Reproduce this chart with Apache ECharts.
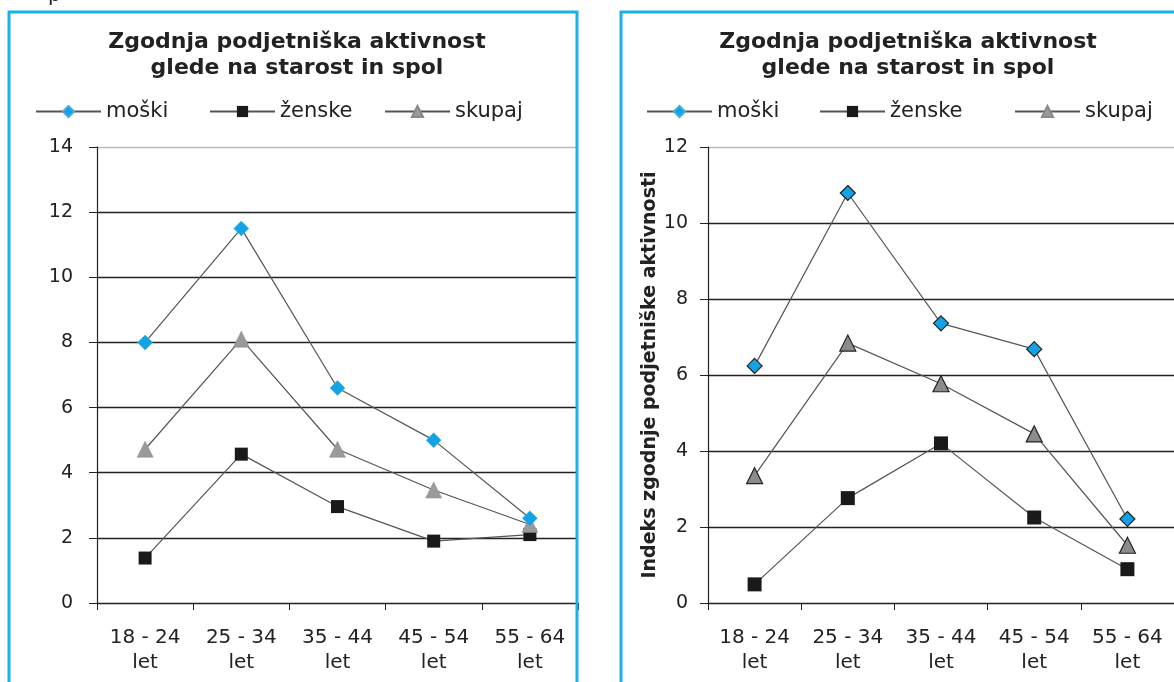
<!DOCTYPE html>
<html>
<head>
<meta charset="utf-8">
<script src="https://cdn.jsdelivr.net/npm/echarts@6/dist/echarts.min.js"></script>
<style>
  html, body { margin: 0; padding: 0; background: #fff; }
  #chart { width: 1174px; height: 682px; }
</style>
</head>
<body>
<div id="chart"></div>
<script>
// data
var categories = ['18 - 24\nlet', '25 - 34\nlet', '35 - 44\nlet', '45 - 54\nlet', '55 - 64\nlet'];
var seriesNames = ['moški', 'ženske', 'skupaj'];

// left chart
var leftMoski = [8.0, 11.5, 6.6, 5.0, 2.6];
var leftZenske = [1.38, 4.57, 2.96, 1.9, 2.1];
var leftSkupaj = [4.72, 8.1, 4.72, 3.47, 2.41];

// right chart
var rightMoski = [6.24, 10.79, 7.36, 6.68, 2.21];
var rightZenske = [0.49, 2.76, 4.2, 2.25, 0.89];
var rightSkupaj = [3.35, 6.84, 5.77, 4.45, 1.52];

var titleText = 'Zgodnja podjetniška aktivnost\nglede na starost in spol';
var rightAxisName = 'Indeks zgodnje podjetniške aktivnosti';

var FONT = '"DejaVu Sans", sans-serif';
var BLUE = '#1ab0ec';
var LINE = '#555';

var chart = echarts.init(document.getElementById('chart'));

function mkSeries(name, data, gridIdx, sym) {
  return {
    name: name,
    type: 'line',
    xAxisIndex: gridIdx,
    yAxisIndex: gridIdx,
    data: data,
    symbol: sym.symbol,
    symbolSize: sym.size,
    showAllSymbol: true,
    lineStyle: { color: LINE, width: 1.2 },
    itemStyle: { color: sym.color, borderColor: sym.border, borderWidth: sym.bw },
    emphasis: { disabled: true },
    z: sym.z || 2
  };
}

function mkLegend(name, left) {
  return {
    data: [name],
    left: left,
    top: 96,
    itemWidth: 65,
    itemHeight: 14,
    itemGap: 8,
    textStyle: { fontFamily: FONT, fontSize: 21, color: '#222' },
    selectedMode: false
  };
}

function mkX(gridIdx) {
  return {
    type: 'category',
    gridIndex: gridIdx,
    data: categories,
    boundaryGap: true,
    axisLine: { lineStyle: { color: '#222', width: 1.2 } },
    axisTick: { show: true, length: 7, lineStyle: { color: '#222' } },
    axisLabel: {
      interval: 0, margin: 22, fontFamily: FONT, fontSize: 20,
      lineHeight: 25, color: '#222'
    }
  };
}

var gridColorsLeft = ['#222', '#222', '#222', '#222', '#222', '#222', '#222', '#bbb'];
var gridColorsRight = ['#222', '#222', '#222', '#222', '#222', '#222', '#bbb'];

var titleStyle = { fontFamily: FONT, fontSize: 22, fontWeight: 'bold', lineHeight: 26, color: '#222' };

var option = {
  animation: false,
  backgroundColor: '#fff',
  title: [
    { text: titleText, left: 292, top: 24, textAlign: 'center', textStyle: titleStyle },
    { text: titleText, left: 903, top: 24, textAlign: 'center', textStyle: titleStyle }
  ],
  legend: [
    mkLegend('moški', 30), mkLegend('ženske', 204), mkLegend('skupaj', 379),
    mkLegend('moški', 641), mkLegend('ženske', 814), mkLegend('skupaj', 1009)
  ],
  grid: [
    { left: 97, top: 147, width: 481, height: 456 },
    { left: 708, top: 147, width: 480, height: 456 }
  ],
  xAxis: [mkX(0), mkX(1)],
  yAxis: [
    {
      type: 'value', gridIndex: 0, min: 0, max: 14, interval: 2,
      axisLine: { show: true, lineStyle: { color: '#222', width: 1.2 } },
      axisTick: { show: true, length: 8, lineStyle: { color: '#222' } },
      axisLabel: { margin: 24, fontFamily: FONT, fontSize: 19, color: '#222' },
      splitLine: { lineStyle: { color: gridColorsLeft, width: 1.3 } }
    },
    {
      type: 'value', gridIndex: 1, min: 0, max: 12, interval: 2,
      name: rightAxisName, nameLocation: 'middle', nameGap: 48, nameRotate: 90,
      nameTextStyle: { fontFamily: FONT, fontSize: 19, fontWeight: 'bold', color: '#222' },
      axisLine: { show: true, lineStyle: { color: '#222', width: 1.2 } },
      axisTick: { show: true, length: 8, lineStyle: { color: '#222' } },
      axisLabel: { margin: 20, fontFamily: FONT, fontSize: 19, color: '#222' },
      splitLine: { lineStyle: { color: gridColorsRight, width: 1.3 } }
    }
  ],
  series: [
    mkSeries('moški', leftMoski, 0, { symbol: 'diamond', size: 15, color: '#12a3e6', border: '#4aaad8', bw: 0.5, z: 3 }),
    mkSeries('ženske', leftZenske, 0, { symbol: 'rect', size: 13, color: '#1a1a1a', border: '#1a1a1a', bw: 0 }),
    mkSeries('skupaj', leftSkupaj, 0, { symbol: 'triangle', size: 16, color: '#9a9a9a', border: '#888', bw: 0.5 }),
    mkSeries('moški', rightMoski, 1, { symbol: 'diamond', size: 15, color: '#12a3e6', border: '#222', bw: 1.2, z: 3 }),
    mkSeries('ženske', rightZenske, 1, { symbol: 'rect', size: 14, color: '#1a1a1a', border: '#1a1a1a', bw: 0 }),
    mkSeries('skupaj', rightSkupaj, 1, { symbol: 'triangle', size: 16, color: '#8c8c8c', border: '#222', bw: 1.2 })
  ],
  graphic: [
    {
      type: 'rect', silent: true, z: 100,
      shape: { x: 9, y: 12, width: 568, height: 700 },
      style: { fill: null, stroke: BLUE, lineWidth: 3 }
    },
    {
      type: 'rect', silent: true, z: 100,
      shape: { x: 621, y: 12, width: 600, height: 700 },
      style: { fill: null, stroke: BLUE, lineWidth: 3 }
    },
    {
      type: 'text', silent: true, left: 48, top: -14,
      style: { text: 'p', fontFamily: FONT, fontSize: 20, fill: '#222' }
    }
  ]
};

chart.setOption(option);
</script>
</body>
</html>
